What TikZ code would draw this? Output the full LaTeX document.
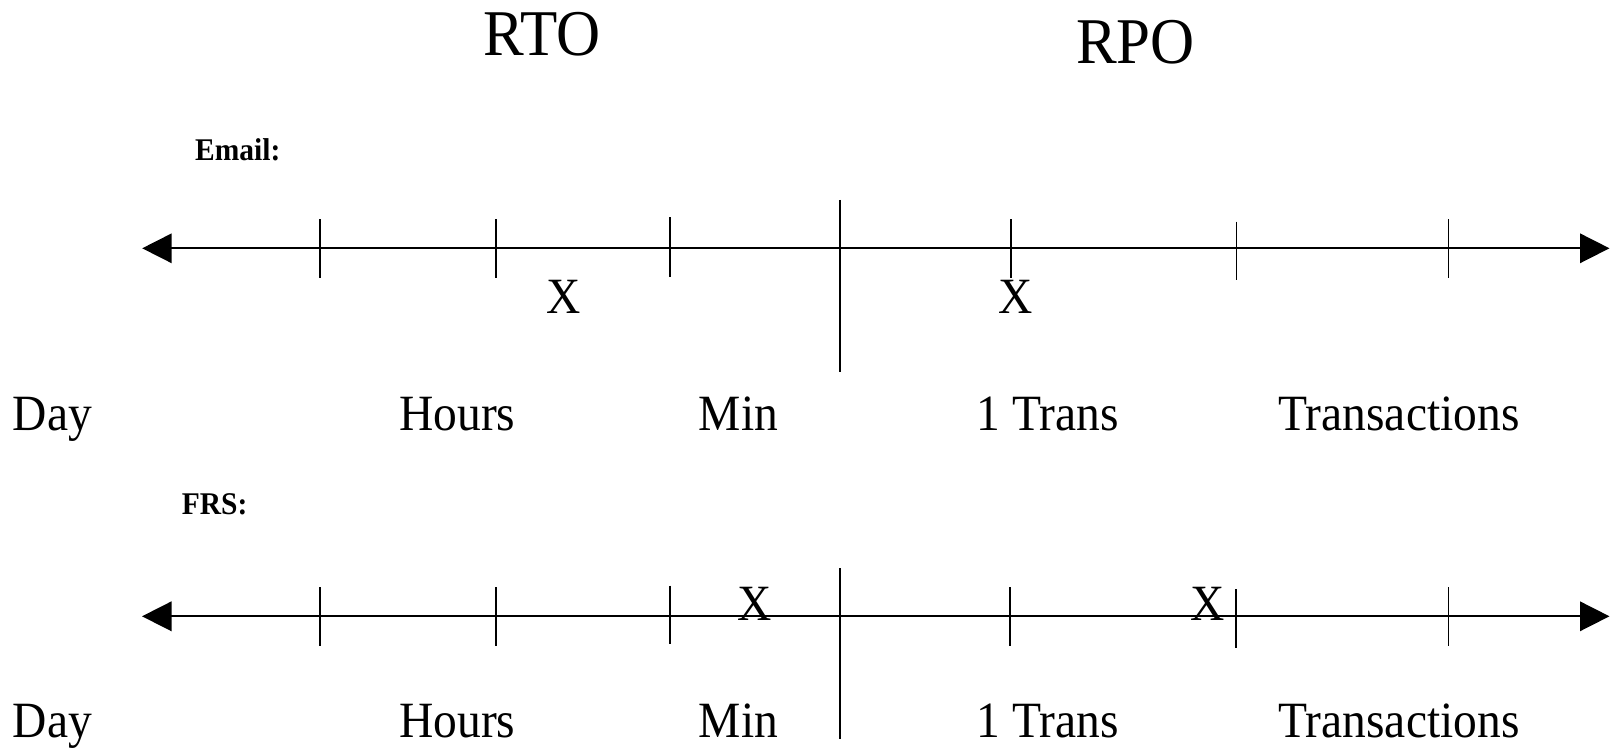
\documentclass[tikz,border=0pt]{standalone}
\usepackage{fontspec}
\setmainfont{Liberation Serif}
\usepackage{graphicx}
\usetikzlibrary{arrows.meta}
% slightly taller letterforms
\newcommand{\tallText}[1]{\scalebox{1}[1.07]{#1}}

\begin{document}
\begin{tikzpicture}[x=1pt,y=-1pt,
  axis/.style={line width=2pt,
    {Triangle[length=29.5pt,width=29.4pt]}-{Triangle[length=29.5pt,width=29.4pt]}},
  tickmark/.style={line width=1.5pt},
  divider/.style={line width=1.6pt},
  lbl/.style={anchor=base, inner sep=0pt, font=\fontsize{47.5}{50}\selectfont},
  mark x/.style={anchor=base, inner sep=0pt, font=\fontsize{47.5}{50}\selectfont},
  heading/.style={anchor=base, inner sep=0pt, font=\fontsize{61}{64}\selectfont},
  system/.style={anchor=base west, inner sep=0pt, font=\bfseries\fontsize{29.5}{32}\selectfont}
]
\useasboundingbox (0,0) rectangle (1611,751);

% headings
\node[heading] (rto) at (541.7,56) {\tallText{RTO}};
\node[heading] (rpo) at (1135.5,63.3) {\tallText{RPO}};

% ---------- Email timeline ----------
\node[system] (email) at (195,160.7) {\tallText{Email:}};
\coordinate (eL) at (142.2,248.3);
\coordinate (eR) at (1609.5,248.3);
\draw[axis] (eL) -- (eR);
\foreach \x/\ya/\yb [count=\i] in {320/219.3/278.3, 496.2/219.3/278.3, 670/217.3/276.7,
    1011/219.3/277.7, 1236.3/221.7/280, 1448.5/219.3/278.3} {
  \coordinate (et\i a) at (\x,\ya);
  \coordinate (et\i b) at (\x,\yb);
  \draw[tickmark] (et\i a) -- (et\i b);
}
\coordinate (eDa) at (840,200);
\coordinate (eDb) at (840,371.7);
\draw[divider] (eDa) -- (eDb);
\node[mark x] (ex1) at (564,313.3) {\tallText{X}};
\node[mark x] (ex2) at (1015.8,313.3) {\tallText{X}};

\node[lbl] (eday)   at (52.5,430.5)  {\tallText{Day}};
\node[lbl] (ehours) at (457.4,430.5) {\tallText{Hours}};
\node[lbl] (emin)   at (738.5,430.5) {\tallText{Min}};
\node[lbl] (eone)   at (1047.7,430.5) {\tallText{1 Trans}};
\node[lbl] (etrans) at (1399,430.5)  {\tallText{Transactions}};

% ---------- FRS timeline ----------
\node[system] (frs) at (181.7,514) {\tallText{FRS:}};
\coordinate (fL) at (142,616.3);
\coordinate (fR) at (1609.5,616.3);
\draw[axis] (fL) -- (fR);
\foreach \x/\ya/\yb [count=\i] in {320/587.3/646, 496/587.3/646, 670/585.7/644,
    1010/587.3/646, 1236.1/589.3/648.3, 1448.7/587.3/646} {
  \coordinate (ft\i a) at (\x,\ya);
  \coordinate (ft\i b) at (\x,\yb);
  \draw[tickmark] (ft\i a) -- (ft\i b);
}
\coordinate (fDa) at (840,568.3);
\coordinate (fDb) at (840,739.3);
\draw[divider] (fDa) -- (fDb);
\node[mark x] (fx1) at (755,620.7) {\tallText{X}};
\node[mark x] (fx2) at (1208,620.7) {\tallText{X}};

\node[lbl] (fday)   at (52.5,737)  {\tallText{Day}};
\node[lbl] (fhours) at (457.4,737) {\tallText{Hours}};
\node[lbl] (fmin)   at (738.5,737) {\tallText{Min}};
\node[lbl] (fone)   at (1047.7,737) {\tallText{1 Trans}};
\node[lbl] (ftrans) at (1399,737)  {\tallText{Transactions}};
\end{tikzpicture}
\end{document}
